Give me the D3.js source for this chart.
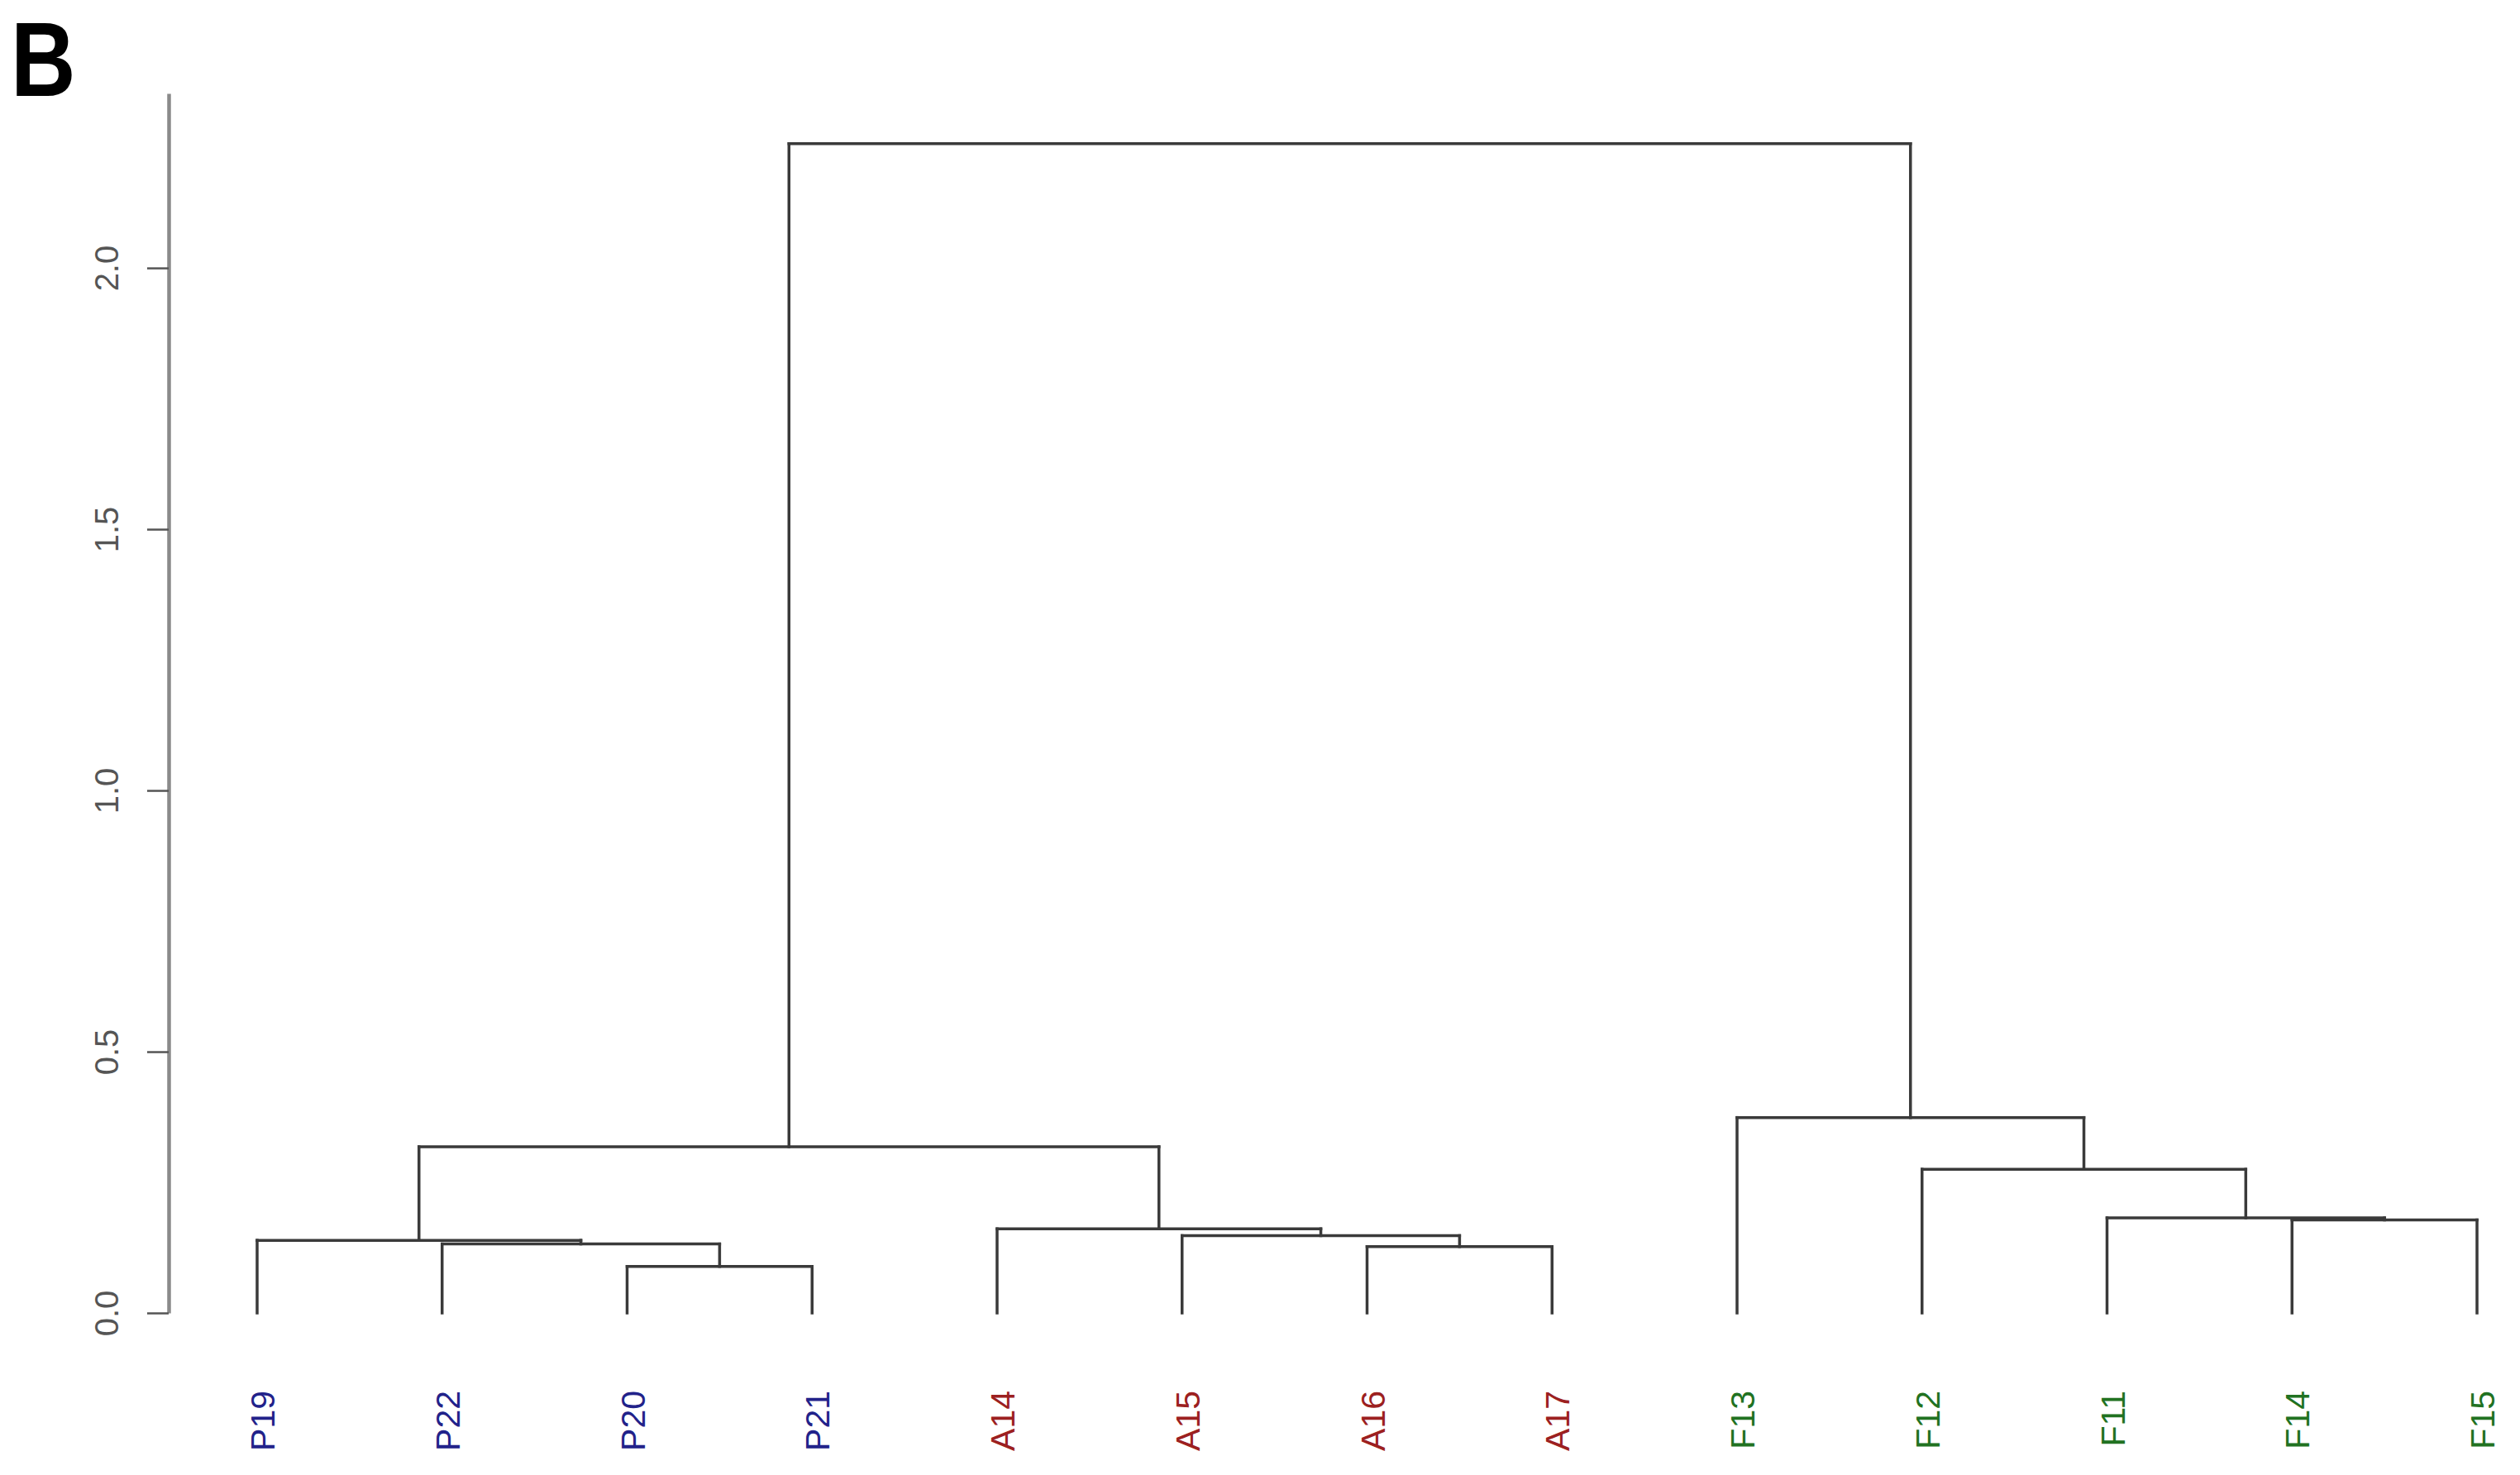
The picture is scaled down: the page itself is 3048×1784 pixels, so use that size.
<!DOCTYPE html>
<html>
<head>
<meta charset="utf-8">
<script src="https://cdn.jsdelivr.net/npm/d3@7"></script>
<style>
  html, body { margin: 0; padding: 0; background: #fff; }
  svg { display: block; }
  text { font-family: "Liberation Sans", Arial, sans-serif; }
</style>
</head>
<body>
<script>
// ---- data ----
const leaves = ["P19","P22","P20","P21","A14","A15","A16","A17","F13","F12","F11","F14","F15"];
const leafGroup = ["P","P","P","P","A","A","A","A","F","F","F","F","F"];
const groupColors = {P: "#22228a", A: "#9c2020", F: "#217221"};
// R-style merge matrix: negative = leaf (1-based), positive = earlier merge (1-based)
const mergeLeft  = [-3, -7, -2, -1, -6, -5, -12, -11, -10, 4, -9, 10];
const mergeRight = [-4, -8,  1,  3,  2,  5, -13,   7,   8, 6,  9, 11];
const mergeHeight = [0.089, 0.127, 0.132, 0.139, 0.148, 0.161, 0.178, 0.182, 0.275, 0.318, 0.374, 2.238];
const yTicks = [0, 0.5, 1.0, 1.5, 2.0];
const yMax = 2.334;
const panelLabel = "B";

// ---- layout ----
const W = 3048, H = 1784;
const svg = d3.select("body").append("svg").attr("width", W).attr("height", H);

const x = d3.scalePoint().domain(leaves).range([311, 2996]);
const y = d3.scaleLinear().domain([0, yMax]).range([1588, 113]);

// node positions
const nodeX = [], nodeH = [];
function childPos(id) {
  if (id < 0) return {x: x(leaves[-id - 1]), h: 0};
  return {x: nodeX[id - 1], h: nodeH[id - 1]};
}
const segs = [];
mergeLeft.forEach((l, i) => {
  const a = childPos(l), b = childPos(mergeRight[i]);
  const h = mergeHeight[i];
  nodeX.push((a.x + b.x) / 2);
  nodeH.push(h);
  segs.push({x1: a.x, y1: a.h, x2: a.x, y2: h});
  segs.push({x1: a.x, y1: h, x2: b.x, y2: h});
  segs.push({x1: b.x, y1: b.h, x2: b.x, y2: h});
});

svg.append("g").selectAll("line").data(segs).join("line")
  .attr("x1", d => d.x1).attr("x2", d => d.x2)
  .attr("y1", d => y(d.y1)).attr("y2", d => y(d.y2))
  .attr("stroke", "#3a3a3a").attr("stroke-width", 3.5)
  .attr("stroke-linecap", "square");

// y axis
const axis = d3.axisLeft(y).tickValues(yTicks).tickSize(26).tickSizeOuter(0).tickFormat(d3.format(".1f"));
const gA = svg.append("g").attr("transform", "translate(204,0)").call(axis);
gA.select(".domain").attr("stroke", "#8a8a8a").attr("stroke-width", 4.5);
gA.selectAll(".tick line").attr("stroke", "#555").attr("stroke-width", 2.5);
gA.selectAll(".tick text")
  .attr("x", null).attr("dy", null)
  .attr("transform", "translate(-61,0) rotate(-90)")
  .attr("text-anchor", "middle")
  .attr("font-size", 40)
  .attr("fill", "#555")
  .attr("font-family", "'Liberation Sans', Arial, sans-serif");

// leaf labels
svg.append("g").selectAll("text").data(leaves).join("text")
  .attr("transform", d => `translate(${x(d) + 21},1682) rotate(-90)`)
  .attr("text-anchor", "end")
  .attr("font-size", 41)
  .attr("fill", (d, i) => groupColors[leafGroup[i]])
  .text(d => d);

// panel label
svg.append("text")
  .attr("transform", "translate(13,116) scale(0.85,1)")
  .attr("font-size", 128).attr("font-weight", "bold").attr("fill", "#000")
  .text(panelLabel);
</script>
</body>
</html>
